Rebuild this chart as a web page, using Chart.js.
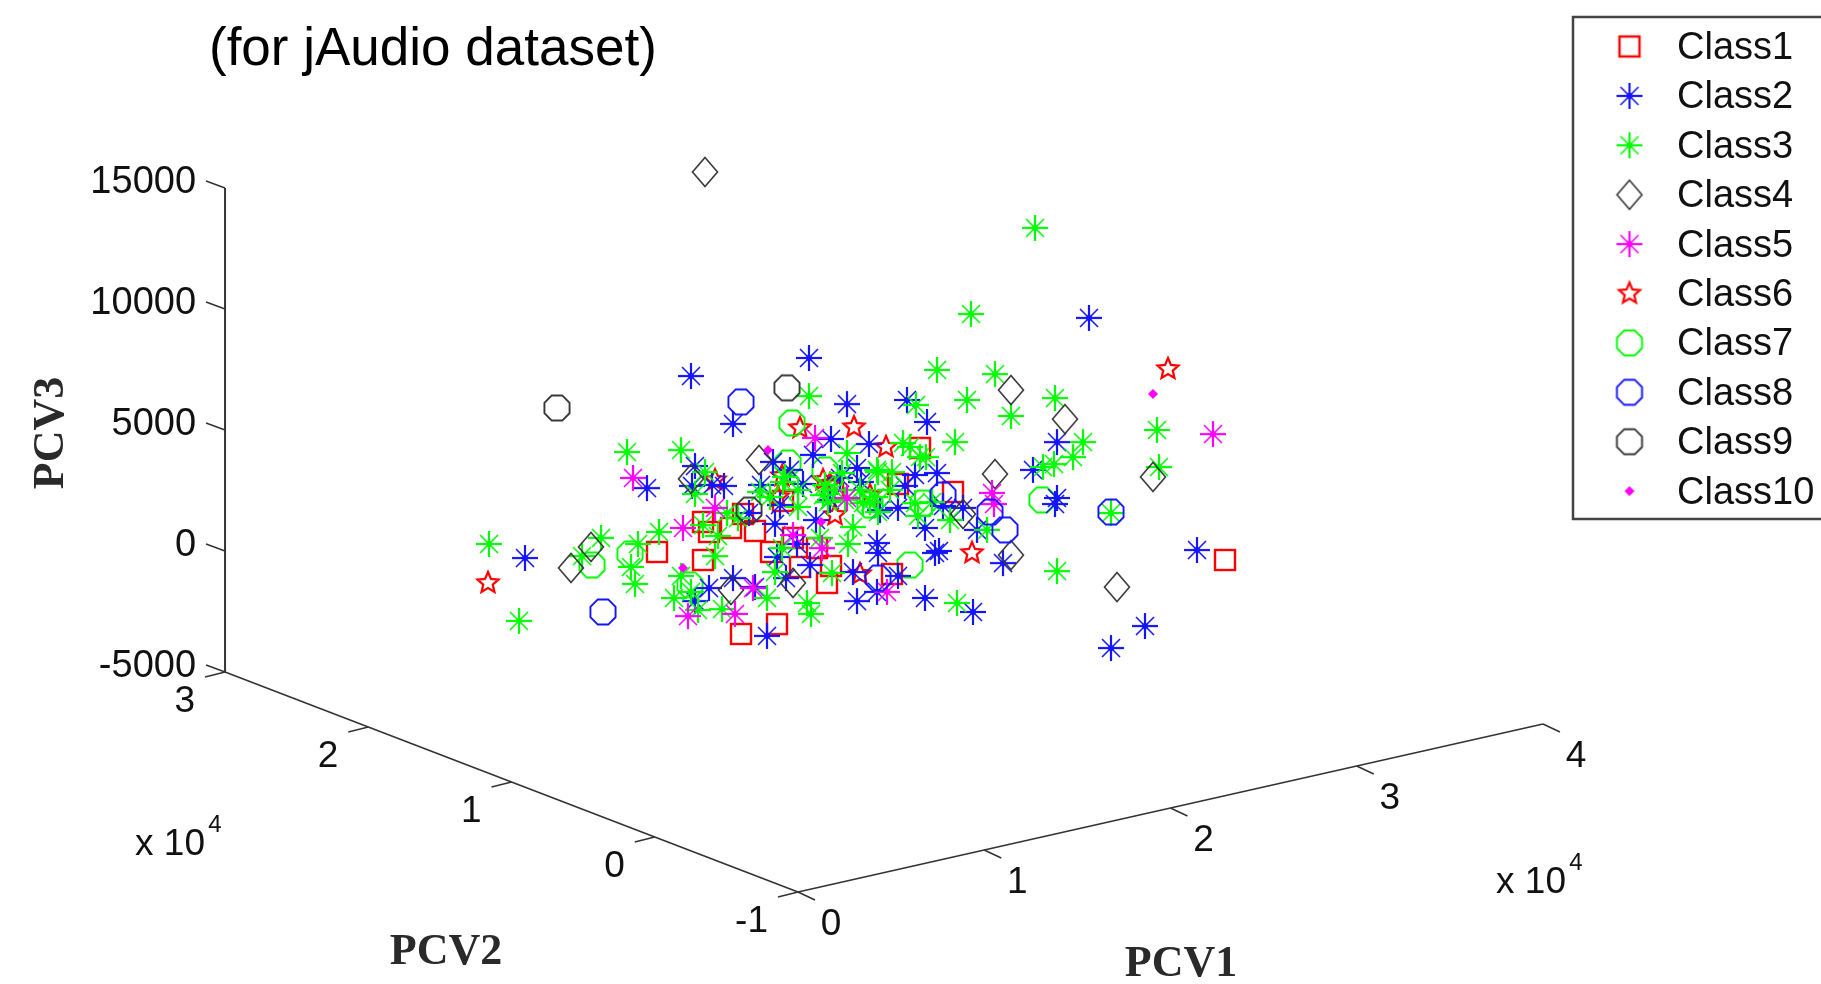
<!DOCTYPE html>
<html>
<head>
<meta charset="utf-8">
<title>jAudio dataset</title>
<script src="https://cdn.jsdelivr.net/npm/chart.js@4/dist/chart.umd.min.js"></script>
<style>
  html, body { margin: 0; padding: 0; background: #fff; overflow: hidden; }
  canvas { display: block; }
</style>
</head>
<body>
<canvas id="chart" width="1821" height="984"></canvas>
<script>
// the 3D view is flat in the picture, so points are [across, up] as read off it:
// "up" is in PCV3 units, "across" in the same kind of units along the screen
const class1 = [[-7050,-40],[-4750,-370],[-2850,-3430],[-4750,1200],[-4450,785],[-3350,950],[-2750,1530],[-2150,830],[-1050,-3020],[-1350,-40],[-250,540],[100,-660],[950,120],[1450,-1320],[1650,-620],[-750,2070],[1750,2520],[5000,2770],[7750,2440],[4700,-950],[6100,4260],[21350,-370]];
const class2 = [[-5350,7230],[550,7975],[-3250,5250],[2450,6070],[-5150,3510],[-1250,3680],[750,3970],[1650,4630],[-7550,2600],[-4300,2730],[-3700,2690],[-1850,2730],[3550,4420],[2950,3430],[3150,2850],[250,2770],[-5300,2690],[-13650,-290],[-4450,-1530],[-5150,-2070],[-3250,-1120],[-2450,1570],[-1150,1120],[-2150,-1490],[-50,290],[-1050,-250],[-600,-1120],[600,-580],[900,1280],[2750,-870],[2950,-2070],[3950,330],[4000,-80],[3950,-1690],[5000,-1030],[6350,950],[6850,-80],[7050,0],[6350,-1940],[-1550,-3510],[5350,2690],[5000,1780],[7250,1860],[5850,3140],[6950,3220],[5450,6240],[6450,5330],[8250,1780],[8950,870],[12950,4500],[11750,3350],[12950,2190],[12850,1940],[10250,-500],[8750,-2520],[19950,40],[17350,-3100],[15650,-4010],[14550,9630],[-900,1900],[1600,2110],[2100,3020],[4100,1690],[-400,3350]];
const class3 = [[-8550,4090],[-5850,4170],[550,6400],[2450,4050],[-4650,3260],[-5150,2360],[-15450,290],[-13950,-2890],[-9850,540],[-10800,-210],[-8000,290],[-6950,785],[-8350,-660],[-8150,-1360],[-4000,620],[-4150,-210],[-5850,-1030],[-5350,-1690],[-6200,-1940],[-5000,-2440],[-3800,-2400],[-3000,1360],[-4750,1070],[-3550,1570],[-1550,-1940],[-1150,-870],[-800,120],[450,-2150],[650,-2600],[1700,-910],[2500,290],[2750,990],[7950,-2150],[5850,1980],[4000,1610],[7600,1280],[3250,1980],[1250,2310],[1500,2020],[-650,3060],[0,1820],[2200,3220],[4000,3260],[1100,540],[-1900,2440],[-1400,2230],[-750,2850],[0,2520],[6950,7480],[9850,7310],[8450,6240],[5900,6030],[10650,5580],[12850,6320],[7850,4500],[5250,4460],[5600,4300],[6100,3880],[6400,3880],[3950,3350],[4700,3260],[3850,2230],[6000,1450],[6700,2020],[3600,2020],[9450,870],[14250,4500],[13750,3880],[12800,3590],[12250,3470],[15650,1570],[17950,5000],[18050,3470],[12950,-830],[11850,13350],[8650,9790],[1350,2730],[1850,2520],[3100,2520],[2350,2110],[4600,2520]];
const class4 = [[-4650,15660],[-1950,3760],[-5350,2980],[-10350,170],[-11350,-700],[-3350,-1610],[-250,-1320],[10650,6650],[13350,5450],[9850,3180],[8250,1530],[17750,3060],[10650,-170],[15950,-1490]];
const class5 = [[-8250,3020],[-4150,1780],[-5750,950],[-2250,-1530],[-5500,-2690],[-3150,-2600],[-250,660],[1200,120],[4450,-1690],[2450,2190],[850,4670],[9700,2400],[9800,1940],[20750,4830]];
const class6 = [[-15500,-1320],[100,5080],[2800,5120],[4400,4300],[18500,7520],[8700,-80],[3100,-950],[-4150,2930],[-800,3100],[1250,2930],[1600,2770],[3600,2310],[1850,1490],[-1000,2230]];
const class7 = [[-10300,-580],[-8400,-120],[-300,5290],[-500,3640],[5600,-580],[12200,2110],[6250,1980],[-5400,-1400],[1350,3350],[3600,1900]];
const class8 = [[-2850,6160],[-9750,-2520],[10350,870],[15650,1610],[9600,1610],[4000,-1120],[7250,2310]];
const class9 = [[-12050,5910],[-550,6740],[-2450,1690]];
const class10 = [[-1500,4170],[-5750,-700],[1150,1200],[17750,6490]];

const classNames = ['Class1','Class2','Class3','Class4','Class5','Class6','Class7','Class8','Class9','Class10'];
const classPoints = [class1,class2,class3,class4,class5,class6,class7,class8,class9,class10];

// draw order, bottom first: the stars sit under the asterisks in the picture
const drawOrder = [5, 6, 0, 1, 2, 3, 4, 7, 8, 9];

const pcv1Ticks = [0,1,2,3,4];
const pcv2Ticks = [-1,0,1,2,3];
const pcv3Ticks = [-5000,0,5000,10000,15000];

const RED = '#ff0000', BLUE = '#1414ff', GREEN = '#00ff00', DARK = '#383838', PINK = '#ff00ff';

// where a (pcv1, pcv2, pcv3) position lands on the page, pcv1/pcv2 in x10^4
function project(p1, p2, p3) {
  return {
    x: 9312 * p1 - 7162 * (p2 + 1),
    y: -14090 + 1735 * p1 + 2272 * (p2 + 1) + (p3 + 5000)
  };
}

function marker(draw) {
  const c = document.createElement('canvas');
  c.width = 36;
  c.height = 36;
  const g = c.getContext('2d');
  g.translate(18, 18);
  draw(g);
  return c;
}

function line(g, x1, y1, x2, y2) {
  g.beginPath();
  g.moveTo(x1, y1);
  g.lineTo(x2, y2);
  g.stroke();
}

function square(color) {
  return marker(g => {
    g.strokeStyle = color;
    g.lineWidth = 2.4;
    g.strokeRect(-10, -10, 20, 20);
  });
}

function asterisk(color) {
  return marker(g => {
    g.strokeStyle = color;
    g.fillStyle = color;
    g.lineWidth = 2.2;
    line(g, -13, 0, 13, 0);
    line(g, 0, -13, 0, 13);
    g.lineWidth = 1.6;
    line(g, -9, -9, 9, 9);
    line(g, -9, 9, 9, -9);
    g.beginPath();
    g.arc(0, 0, 3, 0, Math.PI * 2);
    g.fill();
  });
}

function diamond(color) {
  return marker(g => {
    g.strokeStyle = color;
    g.lineWidth = 1.6;
    g.beginPath();
    g.moveTo(0, -14.5);
    g.lineTo(12.5, 0);
    g.lineTo(0, 14.5);
    g.lineTo(-12.5, 0);
    g.closePath();
    g.stroke();
  });
}

function star5(color) {
  return marker(g => {
    g.strokeStyle = color;
    g.lineWidth = 2.2;
    g.beginPath();
    for (let i = 0; i < 10; i++) {
      const r = i % 2 ? 5 : 11;
      const a = -Math.PI / 2 + i * Math.PI / 5;
      g.lineTo(r * Math.cos(a), r * Math.sin(a));
    }
    g.closePath();
    g.stroke();
  });
}

function octagon(color) {
  return marker(g => {
    g.strokeStyle = color;
    g.lineWidth = 1.9;
    g.beginPath();
    for (let i = 0; i < 8; i++) {
      const a = Math.PI / 8 + i * Math.PI / 4;
      g.lineTo(13.6 * Math.cos(a), 13.6 * Math.sin(a));
    }
    g.closePath();
    g.stroke();
  });
}

function dot(color) {
  return marker(g => {
    g.fillStyle = color;
    g.beginPath();
    g.moveTo(0, -5);
    g.lineTo(5, 0);
    g.lineTo(0, 5);
    g.lineTo(-5, 0);
    g.closePath();
    g.fill();
  });
}

const markers = [square(RED), asterisk(BLUE), asterisk(GREEN), diamond(DARK), asterisk(PINK),
  star5(RED), octagon(GREEN), octagon(BLUE), octagon(DARK), dot(PINK)];

const datasets = classNames.map((name, i) => ({
  label: name,
  data: classPoints[i].map(p => ({ x: p[0], y: p[1] })),
  pointStyle: markers[i],
  pointRadius: 13,
  showLine: false,
  order: classNames.length - drawOrder.indexOf(i)
}));

function axisLine(from, to, width) {
  return {
    label: 'axis',
    data: [from, to],
    showLine: true,
    pointRadius: 0,
    borderColor: '#333',
    borderWidth: width,
    order: 100
  };
}

datasets.push(axisLine(project(0, 3, -5000), project(0, 3, 15000), 2));
datasets.push(axisLine(project(0, -1, -5000), project(0, 3, -5000), 1.6));
datasets.push(axisLine(project(0, -1, -5000), project(4, -1, -5000), 1.6));

function tickAt(chart, pos, dx, dy) {
  const px = chart.scales.x.getPixelForValue(pos.x);
  const py = chart.scales.y.getPixelForValue(pos.y);
  const g = chart.ctx;
  g.beginPath();
  g.moveTo(px, py);
  g.lineTo(px + dx, py + dy);
  g.stroke();
  return { x: px, y: py };
}

function powerLabel(g, x, y) {
  g.font = '37px "Liberation Sans"';
  g.textAlign = 'center';
  g.textBaseline = 'middle';
  g.fillText('x 10', x, y);
  g.font = '24px "Liberation Sans"';
  g.fillText('4', x + 45, y - 20);
}

const axesPlugin = {
  id: 'axes3d',
  afterDatasetsDraw(chart) {
    const g = chart.ctx;
    g.save();
    g.strokeStyle = '#333';
    g.lineWidth = 1.5;
    g.fillStyle = '#111';
    g.font = '38px "Liberation Sans"';
    g.textBaseline = 'middle';

    g.textAlign = 'right';
    pcv3Ticks.forEach(t => {
      const p = tickAt(chart, project(0, 3, t), -19, -7);
      g.fillText(String(t), p.x - 29, p.y - 6);
    });
    g.font = '37px "Liberation Sans"';
    pcv2Ticks.forEach(t => {
      const p = tickAt(chart, project(0, t, -5000), -20, 5);
      g.fillText(String(t), p.x - 30, p.y + 30);
    });
    g.textAlign = 'center';
    pcv1Ticks.forEach(t => {
      const p = tickAt(chart, project(t, -1, -5000), 17, 8);
      g.fillText(String(t), p.x + 33, p.y + 33);
    });

    powerLabel(g, 170, 845);
    powerLabel(g, 1531, 883);

    g.fillStyle = '#2a2a2a';
    g.font = 'bold 44px "Liberation Serif"';
    g.fillText('PCV1', 1181, 965);
    g.fillText('PCV2', 446, 953);
    g.save();
    g.translate(52, 433);
    g.rotate(-Math.PI / 2);
    g.fillText('PCV3', 0, 0);
    g.restore();

    g.fillStyle = '#000';
    g.font = '53px "Liberation Sans"';
    g.textAlign = 'left';
    g.textBaseline = 'alphabetic';
    g.fillText('(for jAudio dataset)', 209, 65);

    // legend box runs off the right edge like in the screenshot
    g.strokeStyle = '#444';
    g.lineWidth = 2.5;
    g.fillStyle = '#fff';
    g.fillRect(1573, 17, 260, 502);
    g.strokeRect(1573, 17, 260, 502);
    g.fillStyle = '#111';
    g.font = '38px "Liberation Sans"';
    g.textBaseline = 'middle';
    classNames.forEach((name, i) => {
      const y = 46.5 + i * 49.4;
      g.drawImage(markers[i], 1629.5 - 18, y - 18);
      g.fillText(name, 1677, y + 2);
    });
    g.restore();
  }
};

new Chart(document.getElementById('chart'), {
  type: 'scatter',
  data: { datasets: datasets },
  options: {
    responsive: false,
    animation: false,
    layout: { padding: 0, autoPadding: false },
    plugins: { legend: { display: false }, tooltip: { enabled: false } },
    scales: {
      x: { type: 'linear', display: false, min: -39900, max: 51150 },
      y: { type: 'linear', display: false, min: -17892, max: 22767 }
    }
  },
  plugins: [axesPlugin]
});
</script>
</body>
</html>
